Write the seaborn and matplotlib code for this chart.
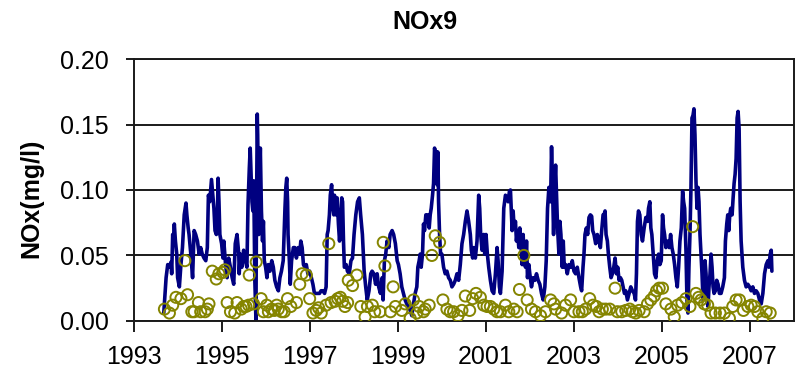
import numpy as np
import pandas as pd
import matplotlib
matplotlib.use("Agg")
import matplotlib.pyplot as plt
import seaborn as sns

# ---- continuous NOx record, 1993-1998 (decimal years, mg/l) ----
years_9399 = [
    1993.675, 1993.728, 1993.765, 1993.80, 1993.84, 1993.855, 1993.878, 1993.893, 1993.915, 1993.94,
    1993.97, 1993.99, 1994.03, 1994.065, 1994.10, 1994.14, 1994.18, 1994.20, 1994.23, 1994.25,
    1994.29, 1994.33, 1994.365, 1994.40, 1994.44, 1994.48, 1994.515, 1994.55, 1994.59, 1994.63,
    1994.665, 1994.69, 1994.72, 1994.74, 1994.76, 1994.79, 1994.815, 1994.84, 1994.87, 1994.89,
    1994.91, 1994.93, 1994.95, 1994.99, 1995.02, 1995.04, 1995.08, 1995.115, 1995.15, 1995.19,
    1995.23, 1995.265, 1995.30, 1995.34, 1995.38, 1995.39, 1995.415, 1995.45, 1995.49, 1995.53,
    1995.565, 1995.59, 1995.62, 1995.64, 1995.66, 1995.68, 1995.70, 1995.72, 1995.745, 1995.77,
    1995.78, 1995.80, 1995.81, 1995.835, 1995.85, 1995.87, 1995.895, 1995.92, 1995.94, 1995.96,
    1995.99, 1996.02, 1996.05, 1996.09, 1996.13, 1996.165, 1996.20, 1996.24, 1996.28, 1996.315,
    1996.35, 1996.39, 1996.43, 1996.45, 1996.47, 1996.49, 1996.50, 1996.53, 1996.55, 1996.58,
    1996.62, 1996.655, 1996.69, 1996.73, 1996.765, 1996.79, 1996.82, 1996.85, 1996.88, 1996.915,
    1996.95, 1996.99, 1997.03, 1997.065, 1997.10, 1997.14, 1997.18, 1997.215, 1997.25, 1997.29,
    1997.33, 1997.365, 1997.39, 1997.41, 1997.44, 1997.46, 1997.49, 1997.52, 1997.54, 1997.555,
    1997.59, 1997.615, 1997.645, 1997.67, 1997.69, 1997.72, 1997.74, 1997.76, 1997.78, 1997.82,
    1997.85, 1997.89, 1997.93, 1997.965, 1998.00, 1998.04, 1998.08, 1998.12, 1998.15, 1998.19,
    1998.23, 1998.265, 1998.30, 1998.34, 1998.38, 1998.41, 1998.45, 1998.49, 1998.525, 1998.56,
    1998.60, 1998.64, 1998.66, 1998.69, 1998.72, 1998.75, 1998.79, 1998.82, 1998.865, 1998.90,
    1998.94, 1998.98,
]
nox_9399 = [
    0.006, 0.033, 0.043, 0.041, 0.045, 0.036, 0.066, 0.061, 0.074, 0.061,
    0.051, 0.033, 0.026, 0.043, 0.056, 0.081, 0.090, 0.081, 0.071, 0.066,
    0.051, 0.033, 0.069, 0.066, 0.061, 0.051, 0.056, 0.051, 0.048, 0.046,
    0.056, 0.096, 0.091, 0.099, 0.108, 0.096, 0.086, 0.069, 0.066, 0.074,
    0.109, 0.091, 0.066, 0.059, 0.048, 0.061, 0.043, 0.033, 0.048, 0.041,
    0.033, 0.028, 0.059, 0.066, 0.051, 0.036, 0.051, 0.041, 0.054, 0.046,
    0.041, 0.089, 0.117, 0.132, 0.112, 0.091, 0.084, 0.107, 0.031, 0.001,
    0.066, 0.158, 0.142, 0.066, 0.102, 0.132, 0.084, 0.061, 0.076, 0.046,
    0.041, 0.033, 0.043, 0.038, 0.046, 0.041, 0.031, 0.026, 0.023, 0.033,
    0.038, 0.046, 0.086, 0.102, 0.109, 0.091, 0.066, 0.046, 0.028, 0.046,
    0.056, 0.056, 0.048, 0.056, 0.051, 0.061, 0.056, 0.043, 0.041, 0.043,
    0.036, 0.038, 0.033, 0.028, 0.021, 0.021, 0.021, 0.021, 0.023, 0.023,
    0.021, 0.026, 0.066, 0.069, 0.081, 0.096, 0.104, 0.086, 0.081, 0.096,
    0.081, 0.094, 0.074, 0.061, 0.071, 0.094, 0.091, 0.061, 0.041, 0.043,
    0.038, 0.036, 0.046, 0.048, 0.066, 0.081, 0.091, 0.094, 0.081, 0.066,
    0.038, 0.026, 0.016, 0.023, 0.036, 0.038, 0.036, 0.028, 0.036, 0.026,
    0.021, 0.033, 0.016, 0.046, 0.051, 0.061, 0.056, 0.066, 0.069, 0.066,
    0.059, 0.046,
]

# ---- continuous NOx record, 1999-2007 ----
years_9907 = [
    1999.009, 1999.047, 1999.085, 1999.123, 1999.161, 1999.199, 1999.237, 1999.275, 1999.313, 1999.351,
    1999.389, 1999.427, 1999.450, 1999.480, 1999.503, 1999.526, 1999.556, 1999.579, 1999.602, 1999.632,
    1999.655, 1999.678, 1999.708, 1999.731, 1999.754, 1999.784, 1999.807, 1999.830, 1999.853, 1999.875,
    1999.891, 1999.906, 1999.921, 1999.944, 1999.967, 1999.997, 2000.035, 2000.073, 2000.111, 2000.149,
    2000.187, 2000.225, 2000.263, 2000.301, 2000.339, 2000.377, 2000.415, 2000.453, 2000.491, 2000.529,
    2000.567, 2000.605, 2000.643, 2000.666, 2000.696, 2000.719, 2000.757, 2000.795, 2000.833, 2000.856,
    2000.878, 2000.909, 2000.947, 2000.970, 2001.000, 2001.030, 2001.061, 2001.099, 2001.137, 2001.175,
    2001.213, 2001.251, 2001.274, 2001.304, 2001.327, 2001.365, 2001.403, 2001.441, 2001.479, 2001.502,
    2001.532, 2001.555, 2001.578, 2001.593, 2001.616, 2001.638, 2001.669, 2001.691, 2001.714, 2001.745,
    2001.767, 2001.790, 2001.821, 2001.844, 2001.866, 2001.897, 2001.920, 2001.942, 2001.973, 2001.995,
    2002.033, 2002.071, 2002.109, 2002.147, 2002.185, 2002.223, 2002.261, 2002.299, 2002.337, 2002.368,
    2002.398, 2002.429, 2002.467, 2002.489, 2002.512, 2002.535, 2002.558, 2002.581, 2002.603, 2002.626,
    2002.657, 2002.679, 2002.702, 2002.733, 2002.755, 2002.778, 2002.809, 2002.847, 2002.884, 2002.922,
    2002.960, 2002.998, 2003.036, 2003.074, 2003.112, 2003.150, 2003.173, 2003.204, 2003.226, 2003.249,
    2003.280, 2003.310, 2003.340, 2003.371, 2003.401, 2003.424, 2003.454, 2003.492, 2003.530, 2003.568,
    2003.599, 2003.629, 2003.660, 2003.682, 2003.705, 2003.728, 2003.758, 2003.781, 2003.812, 2003.842,
    2003.872, 2003.903, 2003.933, 2003.964, 2003.994, 2004.024, 2004.055, 2004.085, 2004.116, 2004.146,
    2004.176, 2004.214, 2004.252, 2004.290, 2004.328, 2004.366, 2004.397, 2004.419, 2004.442, 2004.465,
    2004.495, 2004.526, 2004.556, 2004.594, 2004.632, 2004.670, 2004.693, 2004.723, 2004.746, 2004.769,
    2004.799, 2004.830, 2004.860, 2004.891, 2004.921, 2004.951, 2004.982, 2005.012, 2005.035, 2005.058,
    2005.088, 2005.126, 2005.164, 2005.195, 2005.225, 2005.255, 2005.286, 2005.316, 2005.347, 2005.377,
    2005.407, 2005.438, 2005.468, 2005.491, 2005.514, 2005.544, 2005.567, 2005.590, 2005.612, 2005.635,
    2005.658, 2005.681, 2005.704, 2005.726, 2005.749, 2005.772, 2005.795, 2005.818, 2005.840, 2005.863,
    2005.886, 2005.909, 2005.932, 2005.954, 2005.977, 2006.000, 2006.023, 2006.046, 2006.068, 2006.091,
    2006.114, 2006.137, 2006.160, 2006.182, 2006.213, 2006.243, 2006.274, 2006.304, 2006.342, 2006.380,
    2006.418, 2006.441, 2006.471, 2006.494, 2006.517, 2006.540, 2006.562, 2006.593, 2006.616, 2006.638,
    2006.661, 2006.684, 2006.707, 2006.729, 2006.752, 2006.775, 2006.798, 2006.836, 2006.874, 2006.912,
    2006.950, 2006.988, 2007.026, 2007.064, 2007.102, 2007.140, 2007.178, 2007.216, 2007.254, 2007.292,
    2007.330, 2007.368, 2007.406, 2007.429, 2007.459, 2007.482, 2007.497,
]
nox_9907 = [
    0.043, 0.036, 0.026, 0.021, 0.016, 0.013, 0.011, 0.008, 0.004, 0.013,
    0.021, 0.026, 0.041, 0.046, 0.051, 0.041, 0.051, 0.074, 0.069, 0.081,
    0.076, 0.081, 0.071, 0.081, 0.086, 0.096, 0.105, 0.132, 0.127, 0.129,
    0.104, 0.129, 0.091, 0.066, 0.051, 0.051, 0.041, 0.036, 0.038, 0.033,
    0.031, 0.026, 0.028, 0.031, 0.036, 0.031, 0.043, 0.059, 0.066, 0.076,
    0.084, 0.076, 0.066, 0.054, 0.048, 0.056, 0.048, 0.061, 0.096, 0.086,
    0.066, 0.054, 0.066, 0.051, 0.066, 0.051, 0.041, 0.031, 0.023, 0.021,
    0.036, 0.056, 0.046, 0.026, 0.021, 0.038, 0.086, 0.096, 0.094, 0.091,
    0.099, 0.100, 0.081, 0.069, 0.084, 0.071, 0.076, 0.061, 0.069, 0.056,
    0.071, 0.061, 0.043, 0.066, 0.046, 0.041, 0.061, 0.033, 0.043, 0.036,
    0.026, 0.033, 0.031, 0.036, 0.031, 0.028, 0.021, 0.016, 0.026, 0.046,
    0.086, 0.102, 0.091, 0.133, 0.102, 0.066, 0.102, 0.119, 0.096, 0.071,
    0.051, 0.076, 0.066, 0.041, 0.061, 0.041, 0.043, 0.036, 0.043, 0.041,
    0.046, 0.038, 0.036, 0.041, 0.033, 0.026, 0.023, 0.041, 0.051, 0.066,
    0.071, 0.066, 0.079, 0.081, 0.080, 0.069, 0.066, 0.059, 0.066, 0.061,
    0.056, 0.069, 0.081, 0.081, 0.084, 0.066, 0.061, 0.051, 0.041, 0.033,
    0.036, 0.041, 0.048, 0.036, 0.041, 0.031, 0.033, 0.031, 0.026, 0.021,
    0.023, 0.016, 0.021, 0.026, 0.023, 0.021, 0.016, 0.036, 0.076, 0.084,
    0.081, 0.066, 0.061, 0.071, 0.079, 0.076, 0.086, 0.091, 0.071, 0.066,
    0.051, 0.036, 0.033, 0.046, 0.051, 0.043, 0.046, 0.081, 0.071, 0.066,
    0.056, 0.061, 0.056, 0.066, 0.056, 0.051, 0.043, 0.033, 0.026, 0.041,
    0.061, 0.071, 0.099, 0.091, 0.086, 0.054, 0.016, 0.006, 0.041, 0.066,
    0.102, 0.155, 0.157, 0.162, 0.142, 0.107, 0.086, 0.102, 0.091, 0.066,
    0.051, 0.036, 0.016, 0.021, 0.046, 0.036, 0.016, 0.011, 0.026, 0.036,
    0.051, 0.041, 0.026, 0.021, 0.023, 0.031, 0.028, 0.021, 0.021, 0.026,
    0.033, 0.061, 0.074, 0.081, 0.069, 0.081, 0.086, 0.081, 0.094, 0.105,
    0.112, 0.124, 0.155, 0.160, 0.147, 0.091, 0.061, 0.041, 0.031, 0.026,
    0.028, 0.026, 0.023, 0.026, 0.021, 0.023, 0.021, 0.016, 0.013, 0.021,
    0.036, 0.043, 0.046, 0.041, 0.051, 0.054, 0.038,
]

# ---- grab samples (decimal years, mg/l) ----
sample_years = [
    1993.690, 1993.803, 1993.878, 1993.953, 1994.065, 1994.155, 1994.215, 1994.313, 1994.365, 1994.463,
    1994.515, 1994.613, 1994.665, 1994.703, 1994.778, 1994.868, 1994.928, 1995.018, 1995.063, 1995.116,
    1995.191, 1995.288, 1995.341, 1995.438, 1995.491, 1995.543, 1995.603, 1995.618, 1995.716, 1995.776,
    1995.888, 1995.941, 1996.016, 1996.053, 1996.128, 1996.188, 1996.241, 1996.278, 1996.353, 1996.413,
    1996.488, 1996.563, 1996.691, 1996.766, 1996.818, 1996.916, 1996.991, 1997.066, 1997.141, 1997.194,
    1997.254, 1997.366, 1997.426, 1997.479, 1997.569, 1997.629, 1997.689, 1997.741, 1997.794, 1997.854,
    1997.869, 1997.966, 1998.064, 1998.154, 1998.251, 1998.304, 1998.416, 1998.469, 1998.589, 1998.664,
    1998.701, 1998.829, 1998.889, 1998.941,
    1999.085, 1999.161, 1999.275, 1999.351, 1999.427, 1999.480, 1999.579, 1999.617, 1999.708, 1999.769,
    1999.845, 1999.944, 2000.020, 2000.111, 2000.187, 2000.263, 2000.362, 2000.453, 2000.529, 2000.628,
    2000.696, 2000.772, 2000.871, 2000.947, 2001.023, 2001.099, 2001.175, 2001.251, 2001.327, 2001.441,
    2001.517, 2001.631, 2001.707, 2001.760, 2001.859, 2001.935, 2002.033, 2002.125, 2002.239, 2002.353,
    2002.467, 2002.543, 2002.581, 2002.717, 2002.809, 2002.922, 2002.998, 2003.112, 2003.188, 2003.264,
    2003.356, 2003.432, 2003.508, 2003.568, 2003.644, 2003.720, 2003.812, 2003.933, 2003.986, 2004.085,
    2004.176, 2004.267, 2004.328, 2004.404, 2004.480, 2004.594, 2004.670, 2004.746, 2004.822, 2004.875,
    2004.936, 2005.012, 2005.088, 2005.202, 2005.278, 2005.354, 2005.453, 2005.544, 2005.635, 2005.696,
    2005.772, 2005.833, 2005.886, 2005.962, 2006.038, 2006.114, 2006.213, 2006.319, 2006.418, 2006.532,
    2006.608, 2006.684, 2006.760, 2006.851, 2006.950, 2007.026, 2007.102, 2007.178, 2007.292, 2007.368,
    2007.459,
]
sample_nox = [
    0.009, 0.006, 0.012, 0.018, 0.017, 0.046, 0.020, 0.007, 0.007, 0.014,
    0.007, 0.007, 0.009, 0.013, 0.038, 0.032, 0.036, 0.037, 0.039, 0.014,
    0.007, 0.006, 0.014, 0.009, 0.011, 0.011, 0.012, 0.035, 0.013, 0.045,
    0.017, 0.007, 0.012, 0.007, 0.009, 0.008, 0.012, 0.009, 0.007, 0.007,
    0.017, 0.011, 0.014, 0.028, 0.036, 0.035, 0.017, 0.006, 0.008, 0.010,
    0.006, 0.012, 0.059, 0.014, 0.015, 0.017, 0.018, 0.015, 0.011, 0.014,
    0.031, 0.027, 0.035, 0.011, 0.003, 0.011, 0.012, 0.007, 0.007, 0.060,
    0.042, 0.007, 0.026, 0.011,
    0.008, 0.013, 0.002, 0.016, 0.006, 0.011, 0.007, 0.009, 0.012, 0.050,
    0.065, 0.060, 0.016, 0.009, 0.007, 0.007, 0.004, 0.008, 0.019, 0.008,
    0.017, 0.021, 0.018, 0.012, 0.011, 0.011, 0.009, 0.007, 0.007, 0.012,
    0.007, 0.009, 0.007, 0.024, 0.050, 0.016, 0.009, 0.007, 0.004, 0.007,
    0.016, 0.013, 0.009, 0.006, 0.012, 0.016, 0.007, 0.007, 0.007, 0.009,
    0.017, 0.012, 0.011, 0.007, 0.009, 0.009, 0.009, 0.025, 0.007, 0.007,
    0.008, 0.009, 0.007, 0.006, 0.008, 0.007, 0.013, 0.016, 0.019, 0.023,
    0.025, 0.025, 0.013, 0.009, 0.003, 0.012, 0.014, 0.017, 0.011, 0.072,
    0.021, 0.018, 0.016, 0.013, 0.012, 0.006, 0.006, 0.006, 0.006, 0.002,
    0.011, 0.016, 0.016, 0.008, 0.011, 0.012, 0.011, 0.007, 0.002, 0.007,
    0.006,
]

year_ticks = [1993, 1995, 1997, 1999, 2001, 2003, 2005, 2007]
nox_ticks = [0.00, 0.05, 0.10, 0.15, 0.20]

series = pd.DataFrame({"year": years_9399 + years_9907, "nox": nox_9399 + nox_9907})
samples = pd.DataFrame({"year": sample_years, "nox": sample_nox})

sns.set_theme(style="white")
plt.rcParams["font.family"] = ["Liberation Sans", "DejaVu Sans"]
plt.rcParams["text.color"] = "black"
plt.rcParams["axes.labelcolor"] = "black"
plt.rcParams["xtick.color"] = "black"
plt.rcParams["ytick.color"] = "black"

fig = plt.figure(figsize=(7.98, 3.74), dpi=100)
ax = fig.add_axes([0.168, 0.142, 0.827, 0.700])

ax.set_axisbelow(True)
ax.yaxis.grid(True, color="#1a1a1a", linewidth=1.4)
ax.xaxis.grid(False)

sns.lineplot(data=series, x="year", y="nox", ax=ax, color="#000080",
             linewidth=2.6, estimator=None, sort=False, zorder=2)
sns.scatterplot(data=samples, x="year", y="nox", ax=ax, marker="o", s=64,
                facecolors="none", edgecolor="#858500", linewidth=1.4, zorder=3)

ax.set_xlim(1993, 2008)
ax.set_ylim(0, 0.20)
ax.set_xticks(year_ticks)
ax.set_xticklabels([str(y) for y in year_ticks])
ax.set_yticks(nox_ticks)
ax.set_yticklabels([f"{v:.2f}" for v in nox_ticks])

for side in ["left", "right", "top", "bottom"]:
    ax.spines[side].set_visible(True)
    ax.spines[side].set_color("#1a1a1a")
    ax.spines[side].set_linewidth(1.4)

ax.tick_params(axis="y", direction="out", length=6, width=1.4, pad=12,
               labelsize=18, labelcolor="black", color="#1a1a1a", left=True)
ax.tick_params(axis="x", direction="out", length=8, width=1.4, pad=9,
               labelsize=18, labelcolor="black", color="#1a1a1a", bottom=True)

ax.set_xlabel("")
ax.set_ylabel("NOx(mg/l)", fontsize=18, fontweight="bold", color="black")
ax.yaxis.set_label_coords(-0.156, 0.47)
ax.yaxis.label.set_verticalalignment("center")

fig.text(425 / 798, 1 - 22 / 374, "NOx9", ha="center", va="center",
         fontsize=18, fontweight="bold", color="black")

fig.savefig("out.png", dpi=100, facecolor="white")
